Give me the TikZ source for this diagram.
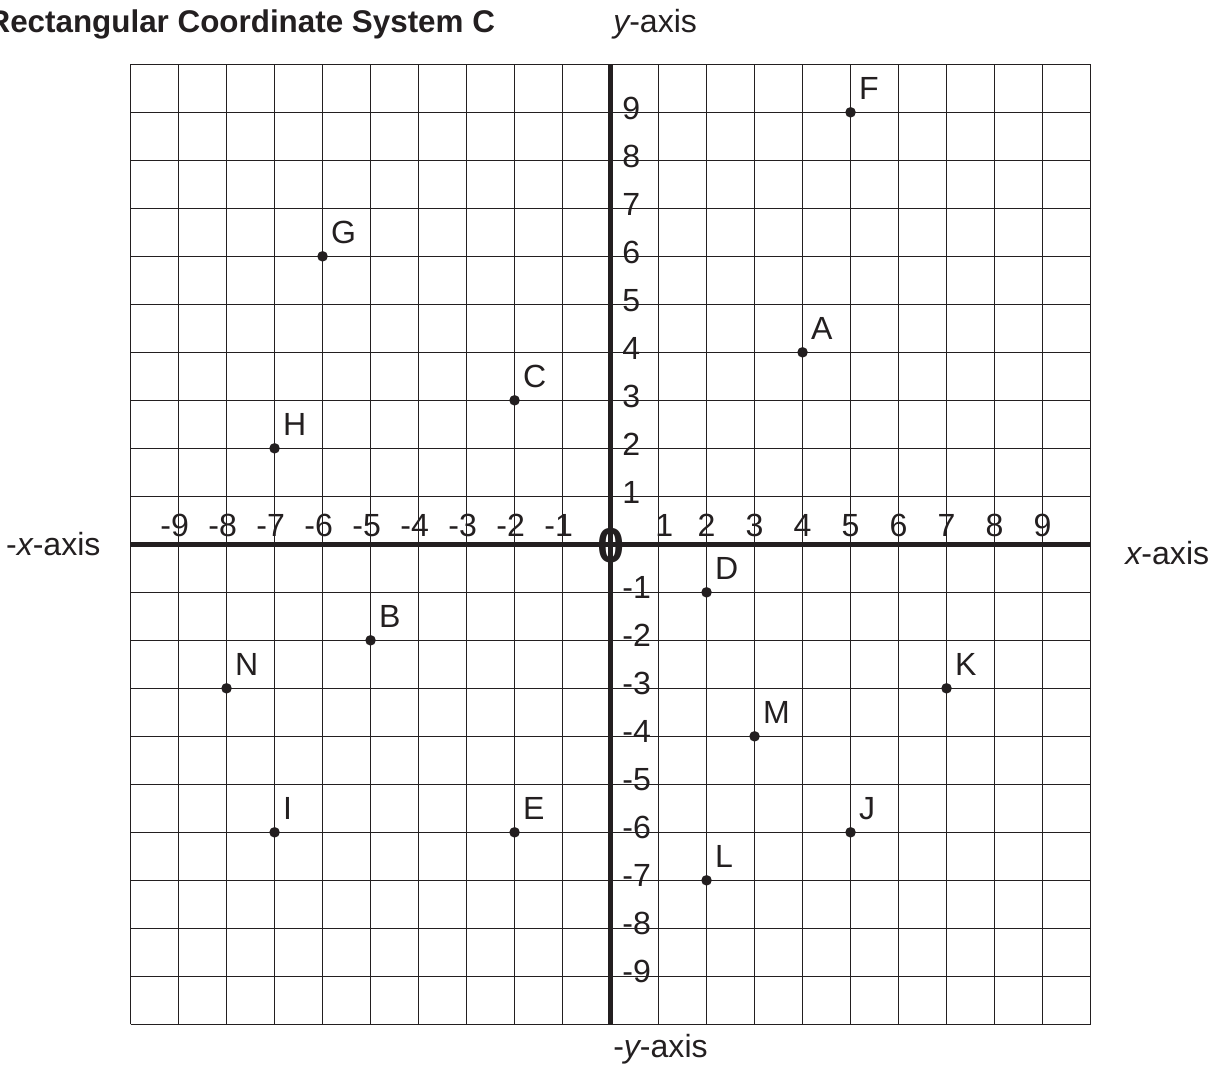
\documentclass[tikz,border=0pt]{standalone}
\usepackage{fontspec}
\setmainfont{Liberation Sans}
\definecolor{ink}{HTML}{231F20}
\begin{document}
\begin{tikzpicture}[x=1cm,y=1cm,
  gridline/.style={ink, line width=0.8pt},
  axisline/.style={ink, line width=2.6pt},
  lbl/.style={text=ink, inner sep=0pt, font=\fontsize{19}{21}\selectfont},
  ptlbl/.style={lbl, anchor=south west},
  dotpt/.style={circle, fill=ink, inner sep=0pt, minimum size=0.22cm}]
\useasboundingbox (-12.72,-10.86) rectangle (12.53,11.34);
% grid and border
\draw[gridline] (-10,-10) grid (10,10);
% axes
\coordinate (xl) at (-10,0);
\coordinate (xr) at (10,0);
\coordinate (yb) at (0,-10);
\coordinate (yt) at (0,10);
\draw[axisline] (xl) -- (xr);
\draw[axisline] (yb) -- (yt);
% x tick labels
\foreach \i in {2,...,9} {
  \node[lbl, anchor=base] (xp\i) at (\i,0.156) {\i};
}
\node[lbl, anchor=base] (xp1) at (1.12,0.156) {1};
\foreach \i in {1,...,9} {
  \node[lbl, anchor=base] (xn\i) at (-\i+0.03,0.156) {\llap{-}\i};
}
% y tick labels
\foreach \i in {1,...,9} {
  \node[lbl, anchor=base west] (yp\i) at (0.24,\i-0.16) {\i};
  \node[lbl, anchor=base west] (yn\i) at (0.24,-\i-0.13) {-\i};
}
% origin
\node[lbl, font=\fontsize{29}{29}\selectfont\bfseries] (zero) at (0.01,-0.03) {0};
% title and axis names
\node[lbl, font=\fontsize{18.6}{21}\selectfont\bfseries, anchor=base east] (title) at (-2.40,10.656) {Rectangular Coordinate System C};
\node[lbl, anchor=base west] (ylab) at (0.05,10.656) {{\itshape y}-axis};
\node[lbl, anchor=base west] (nylab) at (0.05,-10.70) {-{\itshape y}-axis};
\node[lbl, anchor=base east] (nxlab) at (-10.62,-0.24) {-{\itshape x}-axis};
\node[lbl, anchor=base west] (xlab) at (10.72,-0.427) {{\itshape x}-axis};
% points
\foreach \n/\x/\y in {A/4/4, B/-5/-2, C/-2/3, D/2/-1, E/-2/-6, F/5/9, G/-6/6, H/-7/2, I/-7/-6, J/5/-6, K/7/-3, L/2/-7, M/3/-4, N/-8/-3} {
  \node[dotpt] (p\n) at (\x,\y) {};
  \node[ptlbl] (l\n) at (\x+0.17,\y+0.25) {\n};
}
\end{tikzpicture}
\end{document}
